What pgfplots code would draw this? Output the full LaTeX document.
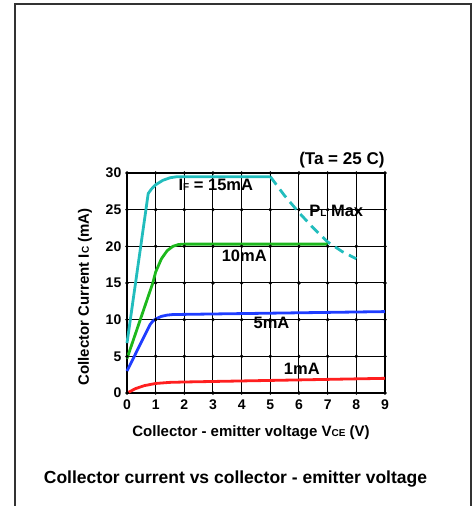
\documentclass[border=0pt]{standalone}
\usepackage{pgfplots}
\pgfplotsset{compat=1.18}
\usepackage{fontspec}
\setmainfont{Liberation Sans}
\definecolor{cyanc}{HTML}{22BDBD}
\definecolor{greenc}{HTML}{1DB81D}
\definecolor{bluec}{HTML}{1F3DFF}
\definecolor{redc}{HTML}{FF1F1F}
\newcommand{\sm}[1]{{\fontsize{10}{10}\selectfont #1}}
\begin{document}
\begin{tikzpicture}[x=1pt,y=1pt]
\path[use as bounding box] (0,0) rectangle (476,506);
\draw[line width=1.8pt, black!80] (15,0) -- (15,502) -- (471,502) -- (471,0);
\begin{axis}[
  at={(127pt,113pt)}, anchor=south west,
  scale only axis, width=258pt, height=220pt,
  xmin=0, xmax=9, ymin=0, ymax=30,
  xtick={0,...,9}, ytick={0,5,...,30},
  grid=major, major grid style={black, line width=1pt},
  axis line style={black, line width=1.3pt},
  major tick length=0pt,
  tick label style={font=\bfseries\fontsize{14}{14}\selectfont},
  /pgf/number format/assume math mode=true,
  xticklabel style={anchor=north, inner sep=0pt, yshift=-7pt},
  yticklabel style={anchor=east, inner sep=0pt, xshift=-5.5pt},
  clip=false,
]
\pgfplotsinvokeforeach{0,...,9}{
  \addplot[only marks, mark=*, mark size=1.5pt, black] coordinates {(#1,0)(#1,5)(#1,10)(#1,15)(#1,20)(#1,25)(#1,30)};
}
% 15 mA
\addplot[cyanc, line width=2.8pt, line join=round] coordinates {
(0,6.8)(0.74,27.2)(0.85,27.8)(1,28.4)(1.25,29.0)(1.5,29.35)(1.75,29.5)(2,29.5)(5,29.5)};
\addplot[cyanc, line width=2.8pt, dash pattern=on 10pt off 6pt] coordinates {
(5,29.5)(5.5,26.9)(6,24.6)(6.5,22.5)(7,20.6)(7.5,19.3)(8,18.3)};
% 10 mA
\addplot[greenc, line width=2.8pt, line join=round] coordinates {
(0,4.7)(0.9,15)(1,16.5)(1.2,18.3)(1.4,19.4)(1.6,20)(1.8,20.25)(2,20.3)(7,20.3)};
% 5 mA
\addplot[bluec, line width=2.8pt, line join=round] coordinates {
(0,3)(0.8,9.3)(0.9,9.8)(1,10.1)(1.2,10.45)(1.4,10.62)(1.6,10.7)(9,11.1)};
% 1 mA
\addplot[redc, line width=2.8pt, line join=round] coordinates {
(0.05,0.1)(0.3,0.6)(0.6,1.0)(1,1.3)(1.5,1.45)(2,1.5)(9,2.0)};
\node[font=\bfseries\fontsize{16.5}{16.5}\selectfont] at (axis cs:3.1,28.4) {I\sm{F} = 15mA};
\node[font=\bfseries\fontsize{16.5}{16.5}\selectfont] at (axis cs:7.3,24.8) {P\sm{L} Max};
\node[font=\bfseries\fontsize{16.5}{16.5}\selectfont] at (axis cs:4.09,18.7) {10mA};
\node[font=\bfseries\fontsize{16.5}{16.5}\selectfont] at (axis cs:5.04,9.55) {5mA};
\node[font=\bfseries\fontsize{16.5}{16.5}\selectfont] at (axis cs:6.1,3.33) {1mA};
\end{axis}
\node[font=\bfseries\fontsize{17}{17}\selectfont, anchor=east] at (388,346) {(Ta = 25 C)};
\node[font=\bfseries\fontsize{15}{15}\selectfont, rotate=90] at (85,209) {Collector Current I\sm{C} (mA)};
\node[font=\bfseries\fontsize{15}{15}\selectfont] at (251,73.7) {Collector - emitter voltage V\sm{CE} (V)};
\node[font=\bfseries\fontsize{17.5}{17.5}\selectfont] at (235.5,26.7) {Collector current vs collector - emitter voltage};
\end{tikzpicture}
\end{document}
